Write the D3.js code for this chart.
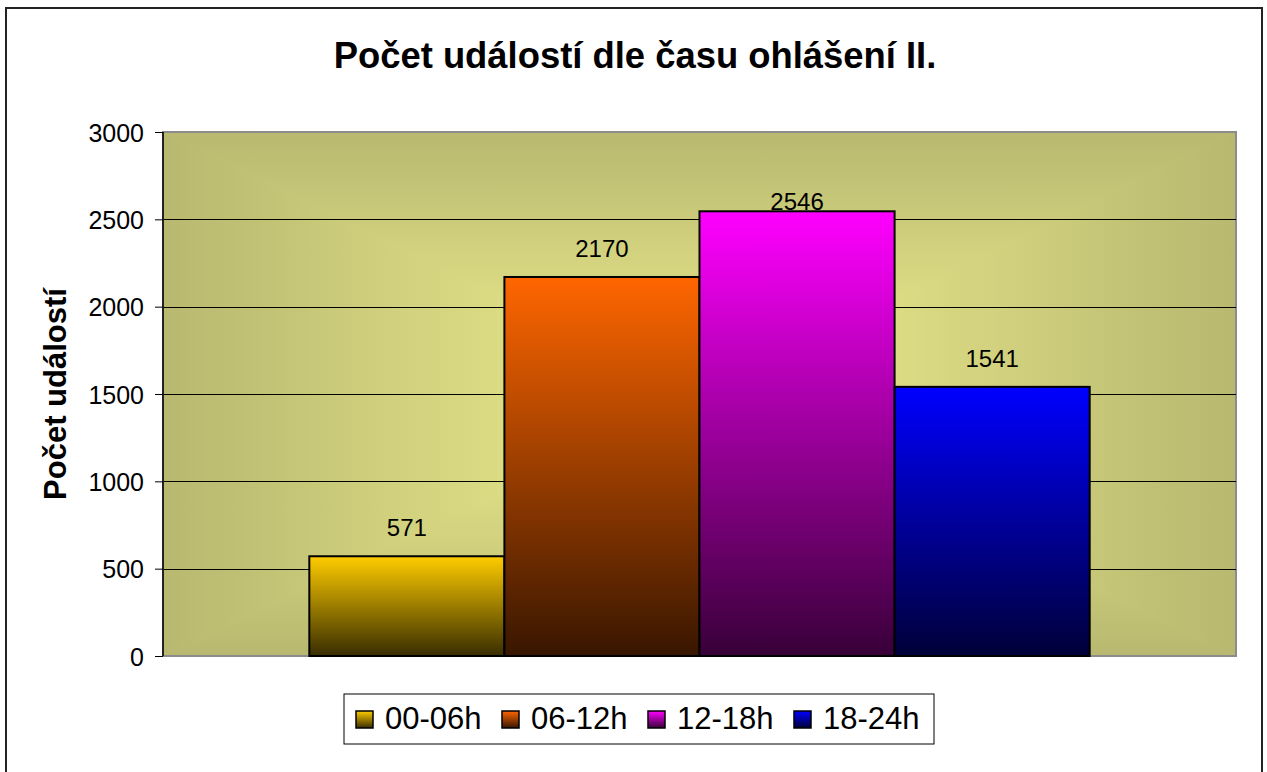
<!DOCTYPE html>
<html>
<head>
<meta charset="utf-8">
<script src="https://cdn.jsdelivr.net/npm/d3@7"></script>
<style>
  body { margin: 0; background: #fff; }
  text { font-family: Arial, "Liberation Sans", sans-serif; fill: #000; }
</style>
</head>
<body>
<div id="chart"></div>
<script>
const width = 1267;
const height = 772;

// data
const title = "Počet událostí dle času ohlášení II.";
const yTitle = "Počet událostí";
const series = ["00-06h", "06-12h", "12-18h", "18-24h"];
const values = [571, 2170, 2546, 1541];
const colors = ["#ffcc00", "#ff6600", "#ff00ff", "#0000ff"];
const yTicks = [0, 500, 1000, 1500, 2000, 2500, 3000];

// plot area
const plotLeft = 163, plotRight = 1236, plotTop = 132, plotBottom = 656;

let svg = d3.select("#chart").append("svg")
  .attr("width", width)
  .attr("height", height);

let defs = svg.append("defs");

// outer chart border
svg.append("rect")
  .attr("x", 6).attr("y", 8)
  .attr("width", 1256).attr("height", 790)
  .attr("fill", "#fff")
  .attr("stroke", "#222")
  .attr("stroke-width", 2);

let x = d3.scaleBand()
  .domain(series)
  .range([plotLeft, plotRight])
  .paddingInner(0)
  .paddingOuter(0.75);

let y = d3.scaleLinear()
  .domain([0, 3000])
  .range([plotBottom, plotTop]);

// Rectangular "from center" gradient: four triangles, each fading edge -> center
const edgeColor = "#b8b870", centerColor = "#f0f090";
let cx = (plotLeft + plotRight) / 2, cy = (plotTop + plotBottom) / 2;
let tris = [
  { id: "bgT", pts: [[plotLeft, plotTop], [plotRight, plotTop], [cx, cy]], from: [cx, plotTop] },
  { id: "bgB", pts: [[plotLeft, plotBottom], [plotRight, plotBottom], [cx, cy]], from: [cx, plotBottom] },
  { id: "bgL", pts: [[plotLeft, plotTop], [plotLeft, plotBottom], [cx, cy]], from: [plotLeft, cy] },
  { id: "bgR", pts: [[plotRight, plotTop], [plotRight, plotBottom], [cx, cy]], from: [plotRight, cy] }
];
tris.forEach(t => {
  let g = defs.append("linearGradient")
    .attr("id", t.id)
    .attr("gradientUnits", "userSpaceOnUse")
    .attr("x1", t.from[0]).attr("y1", t.from[1])
    .attr("x2", cx).attr("y2", cy);
  g.append("stop").attr("offset", 0).attr("stop-color", edgeColor);
  g.append("stop").attr("offset", 1).attr("stop-color", centerColor);
});

svg.append("rect")
  .attr("x", plotLeft).attr("y", plotTop)
  .attr("width", plotRight - plotLeft).attr("height", plotBottom - plotTop)
  .attr("fill", "#d4d47e");

svg.selectAll("path.bg")
  .data(tris)
  .enter().append("path")
  .attr("class", "bg")
  .attr("d", t => "M" + t.pts.map(p => p.join(",")).join("L") + "Z")
  .attr("fill", t => "url(#" + t.id + ")")
  .attr("stroke", t => "url(#" + t.id + ")")
  .attr("stroke-width", 0.6);

// plot border
svg.append("rect")
  .attr("x", plotLeft).attr("y", plotTop)
  .attr("width", plotRight - plotLeft).attr("height", plotBottom - plotTop)
  .attr("fill", "none")
  .attr("stroke", "#8c8c8c")
  .attr("stroke-width", 2);

// gridlines
svg.append("g")
  .selectAll("line")
  .data(yTicks.filter(d => d > 0 && d < 3000))
  .enter().append("line")
  .attr("x1", plotLeft).attr("x2", plotRight)
  .attr("y1", d => Math.round(y(d)) + 0.5)
  .attr("y2", d => Math.round(y(d)) + 0.5)
  .attr("stroke", "#000")
  .attr("stroke-width", 1);

// bar gradients: colour at the top fading to near black
series.forEach((s, i) => {
  let g = defs.append("linearGradient")
    .attr("id", "bar" + i)
    .attr("x1", 0).attr("y1", 0).attr("x2", 0).attr("y2", 1);
  g.append("stop").attr("offset", 0).attr("stop-color", colors[i]);
  g.append("stop").attr("offset", 1).attr("stop-color", d3.interpolateRgb(colors[i], "#000")(0.78));
});

svg.append("g")
  .selectAll("rect")
  .data(values)
  .enter().append("rect")
  .attr("x", (d, i) => x(series[i]))
  .attr("y", d => y(d))
  .attr("width", x.bandwidth())
  .attr("height", d => plotBottom - y(d))
  .attr("fill", (d, i) => "url(#bar" + i + ")")
  .attr("stroke", "#000")
  .attr("stroke-width", 2);

// data labels (the tallest one sits pressed onto its bar in the original)
const labelLimit = y(2555);
svg.append("g")
  .selectAll("text")
  .data(values)
  .enter().append("text")
  .attr("x", (d, i) => x(series[i]) + x.bandwidth() / 2)
  .attr("y", d => Math.max(y(d) - 20, labelLimit))
  .attr("text-anchor", "middle")
  .style("font-size", "24px")
  .text(d => d);

// y axis
let yAxis = d3.axisLeft(y)
  .tickValues(yTicks)
  .tickSize(8)
  .tickPadding(11)
  .tickFormat(d3.format("d"));
let ax = svg.append("g")
  .attr("transform", "translate(" + plotLeft + ",0)")
  .call(yAxis);
ax.select(".domain").attr("stroke", "#222").attr("stroke-width", 2).attr("d", "M0," + plotTop + "V" + plotBottom);
ax.selectAll(".tick line").attr("stroke", "#000");
ax.selectAll(".tick text")
  .attr("font-family", null)
  .style("font-size", "25px")
  .attr("dy", "0.36em");

// titles
svg.append("text")
  .attr("x", 635).attr("y", 68)
  .attr("text-anchor", "middle")
  .style("font-size", "36.4px")
  .style("font-weight", "bold")
  .text(title);

svg.append("text")
  .attr("transform", "translate(66," + cy + ") rotate(-90)")
  .attr("text-anchor", "middle")
  .style("font-size", "31px")
  .style("font-weight", "bold")
  .text(yTitle);

// legend
let legend = svg.append("g");
legend.append("rect")
  .attr("x", 344).attr("y", 694)
  .attr("width", 590).attr("height", 50)
  .attr("fill", "#fff")
  .attr("stroke", "#000")
  .attr("stroke-width", 1);

let item = legend.selectAll("g.item")
  .data(series)
  .enter().append("g")
  .attr("class", "item")
  .attr("transform", (d, i) => "translate(" + (356 + i * 146) + ",711)");
item.append("rect")
  .attr("width", 17).attr("height", 17)
  .attr("fill", (d, i) => "url(#bar" + i + ")")
  .attr("stroke", "#000")
  .attr("stroke-width", 1.5);
item.append("text")
  .attr("x", 29).attr("y", 18)
  .style("font-size", "31px")
  .text(d => d);
</script>
</body>
</html>
